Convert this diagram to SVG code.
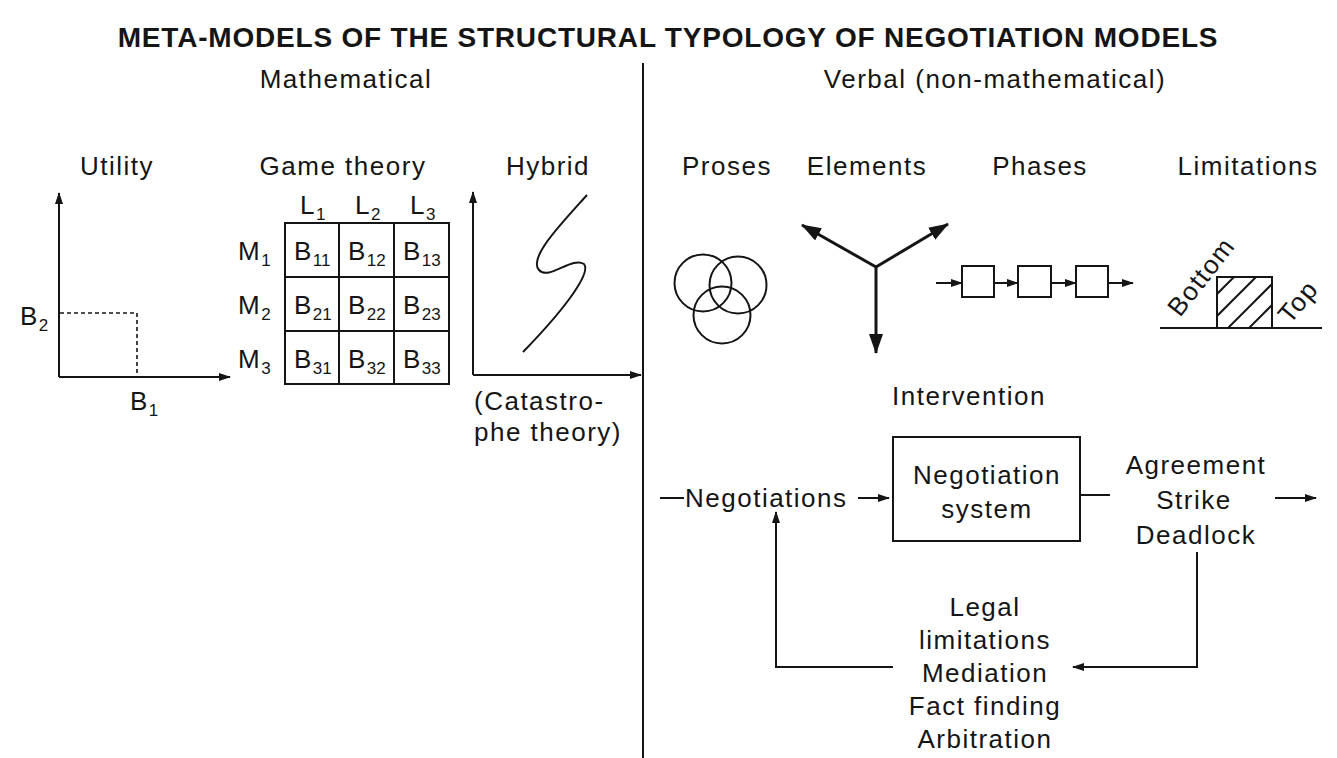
<svg xmlns="http://www.w3.org/2000/svg" width="1337" height="758" viewBox="0 0 1337 758">
  <style>
    text { font-family: "Liberation Sans", Arial, Helvetica, sans-serif; fill: #151515; }
    .t { font-size: 26px; letter-spacing: 1.5px; }
    .c { text-anchor: middle; }
    .title { font-size: 28px; font-weight: bold; letter-spacing: 0.8px; text-anchor: middle; }
    .sub { font-size: 17px; letter-spacing: 0; }
    .ln { stroke: #151515; stroke-width: 2; fill: none; }
    .thick { stroke: #151515; stroke-width: 3; fill: none; }
    .dash { stroke: #151515; stroke-width: 1.6; fill: none; stroke-dasharray: 4 3; }
  </style>
  <defs>
    <marker id="arr" viewBox="0 0 12 8" refX="11" refY="4" markerWidth="12" markerHeight="8" markerUnits="userSpaceOnUse" orient="auto">
      <path d="M0,0 L12,4 L0,8 z" fill="#151515"/>
    </marker>
    <marker id="arrBig" viewBox="0 0 20 14" refX="19" refY="7" markerWidth="20" markerHeight="14" markerUnits="userSpaceOnUse" orient="auto">
      <path d="M0,0 L20,7 L0,14 z" fill="#151515"/>
    </marker>
    <clipPath id="hatchClip">
      <rect x="1217" y="277" width="55" height="51"/>
    </clipPath>
  </defs>

  <rect width="1337" height="758" fill="#ffffff"/>

  <!-- heading -->
  <text id="title" class="title" x="668" y="47">META-MODELS OF THE STRUCTURAL TYPOLOGY OF NEGOTIATION MODELS</text>

  <!-- divider between the two families -->
  <line id="divider" class="ln" x1="643" y1="63" x2="643" y2="758"/>

  <text class="t c" x="346" y="88">Mathematical</text>
  <text class="t c" x="995" y="88">Verbal (non-mathematical)</text>

  <!-- Utility -->
  <g id="utility">
    <text class="t c" x="117" y="175">Utility</text>
    <line class="ln" x1="59" y1="377" x2="59" y2="193" marker-end="url(#arr)"/>
    <line class="ln" x1="59" y1="377" x2="230" y2="377" marker-end="url(#arr)"/>
    <polyline class="dash" points="60,313 137,313 137,376"/>
    <text class="t" x="20" y="325">B<tspan class="sub" dy="6">2</tspan></text>
    <text class="t" x="130" y="410">B<tspan class="sub" dy="6">1</tspan></text>
  </g>

  <!-- Game theory -->
  <g id="game-theory">
    <text class="t c" x="343" y="175">Game theory</text>
    <rect class="ln" x="285" y="223" width="164" height="161"/>
    <line class="ln" x1="339" y1="223" x2="339" y2="384"/>
    <line class="ln" x1="394" y1="223" x2="394" y2="384"/>
    <line class="ln" x1="285" y1="277" x2="449" y2="277"/>
    <line class="ln" x1="285" y1="331" x2="449" y2="331"/>
    <text class="t" x="300" y="214">L<tspan class="sub" dy="6">1</tspan></text>
    <text class="t" x="355" y="214">L<tspan class="sub" dy="6">2</tspan></text>
    <text class="t" x="410" y="214">L<tspan class="sub" dy="6">3</tspan></text>
    <text class="t" x="238" y="260">M<tspan class="sub" dy="6">1</tspan></text>
    <text class="t" x="238" y="314">M<tspan class="sub" dy="6">2</tspan></text>
    <text class="t" x="238" y="368">M<tspan class="sub" dy="6">3</tspan></text>
    <text class="t" x="294" y="260">B<tspan class="sub" dy="6">11</tspan></text>
    <text class="t" x="348" y="260">B<tspan class="sub" dy="6">12</tspan></text>
    <text class="t" x="403" y="260">B<tspan class="sub" dy="6">13</tspan></text>
    <text class="t" x="294" y="314">B<tspan class="sub" dy="6">21</tspan></text>
    <text class="t" x="348" y="314">B<tspan class="sub" dy="6">22</tspan></text>
    <text class="t" x="403" y="314">B<tspan class="sub" dy="6">23</tspan></text>
    <text class="t" x="294" y="368">B<tspan class="sub" dy="6">31</tspan></text>
    <text class="t" x="348" y="368">B<tspan class="sub" dy="6">32</tspan></text>
    <text class="t" x="403" y="368">B<tspan class="sub" dy="6">33</tspan></text>
  </g>

  <!-- Hybrid (catastrophe curve) -->
  <g id="hybrid">
    <text class="t c" x="548" y="175">Hybrid</text>
    <line class="ln" x1="473" y1="375" x2="473" y2="192" marker-end="url(#arr)"/>
    <line class="ln" x1="473" y1="375" x2="641" y2="375" marker-end="url(#arr)"/>
    <path class="ln" stroke-width="2.5" d="M587,195 C560,225 528,258 539,270 C549,281 572,256 584,264 C592,274 560,314 523,352"/>
    <text class="t" x="474" y="410">(Catastro-</text>
    <text class="t" x="474" y="441">phe theory)</text>
  </g>

  <!-- Proses -->
  <g id="proses">
    <text class="t c" x="727" y="175">Proses</text>
    <circle class="ln" cx="703" cy="283" r="28.5"/>
    <circle class="ln" cx="738" cy="285" r="28.5"/>
    <circle class="ln" cx="722" cy="315" r="28.5"/>
  </g>

  <!-- Elements -->
  <g id="elements">
    <text class="t c" x="867" y="175">Elements</text>
    <line class="thick" x1="876" y1="267" x2="802" y2="225" marker-end="url(#arrBig)"/>
    <line class="thick" x1="876" y1="267" x2="948" y2="224" marker-end="url(#arrBig)"/>
    <line class="thick" x1="876" y1="265" x2="876" y2="353" marker-end="url(#arrBig)"/>
  </g>

  <!-- Phases -->
  <g id="phases">
    <text class="t c" x="1040" y="175">Phases</text>
    <rect class="ln" x="962" y="266" width="32" height="31"/>
    <rect class="ln" x="1018" y="266" width="33" height="31"/>
    <rect class="ln" x="1076" y="266" width="32" height="31"/>
    <line class="ln" x1="936" y1="283" x2="962" y2="283" marker-end="url(#arr)"/>
    <line class="ln" x1="994" y1="283" x2="1018" y2="283" marker-end="url(#arr)"/>
    <line class="ln" x1="1051" y1="283" x2="1076" y2="283" marker-end="url(#arr)"/>
    <line class="ln" x1="1108" y1="283" x2="1133" y2="283" marker-end="url(#arr)"/>
  </g>

  <!-- Limitations -->
  <g id="limitations">
    <text class="t c" x="1248" y="175">Limitations</text>
    <line class="ln" x1="1160" y1="328" x2="1322" y2="328"/>
    <rect class="ln" x="1217" y="277" width="55" height="51"/>
    <g clip-path="url(#hatchClip)">
      <line class="ln" x1="1200" y1="311" x2="1250" y2="261"/>
      <line class="ln" x1="1200" y1="333" x2="1270" y2="263"/>
      <line class="ln" x1="1210" y1="346" x2="1290" y2="266"/>
      <line class="ln" x1="1230" y1="347" x2="1300" y2="277"/>
    </g>
    <text class="t" transform="translate(1180,318) rotate(-52)">Bottom</text>
    <text class="t" transform="translate(1290,325) rotate(-50)">Top</text>
  </g>

  <text id="intervention" class="t c" x="969" y="405">Intervention</text>

  <!-- Negotiation system -->
  <g id="system">
    <rect class="ln" x="893" y="437" width="187" height="104"/>
    <text class="t c" x="987" y="484">Negotiation</text>
    <text class="t c" x="987" y="518">system</text>
  </g>

  <g id="negotiations">
    <text class="t" x="685" y="507">Negotiations</text>
  </g>

  <g id="outcomes">
    <text class="t c" x="1196" y="474">Agreement</text>
    <text class="t c" x="1194" y="509">Strike</text>
    <text class="t c" x="1196" y="544">Deadlock</text>
  </g>

  <g id="interventions">
    <text class="t c" x="985" y="616">Legal</text>
    <text class="t c" x="985" y="649">limitations</text>
    <text class="t c" x="985" y="682">Mediation</text>
    <text class="t c" x="985" y="715">Fact finding</text>
    <text class="t c" x="985" y="748">Arbitration</text>
  </g>

  <!-- flow connectors -->
  <g id="connectors">
    <line class="ln" x1="660" y1="498" x2="684" y2="498"/>
    <line class="ln" x1="858" y1="498" x2="889" y2="498" marker-end="url(#arr)"/>
    <line class="ln" x1="1080" y1="495" x2="1110" y2="495"/>
    <line class="ln" x1="1275" y1="498" x2="1316" y2="498" marker-end="url(#arr)"/>
    <polyline class="ln" points="1197,552 1197,667 1073,667" marker-end="url(#arr)"/>
    <polyline class="ln" points="893,667 776,667 776,512" marker-end="url(#arr)"/>
  </g>
</svg>
